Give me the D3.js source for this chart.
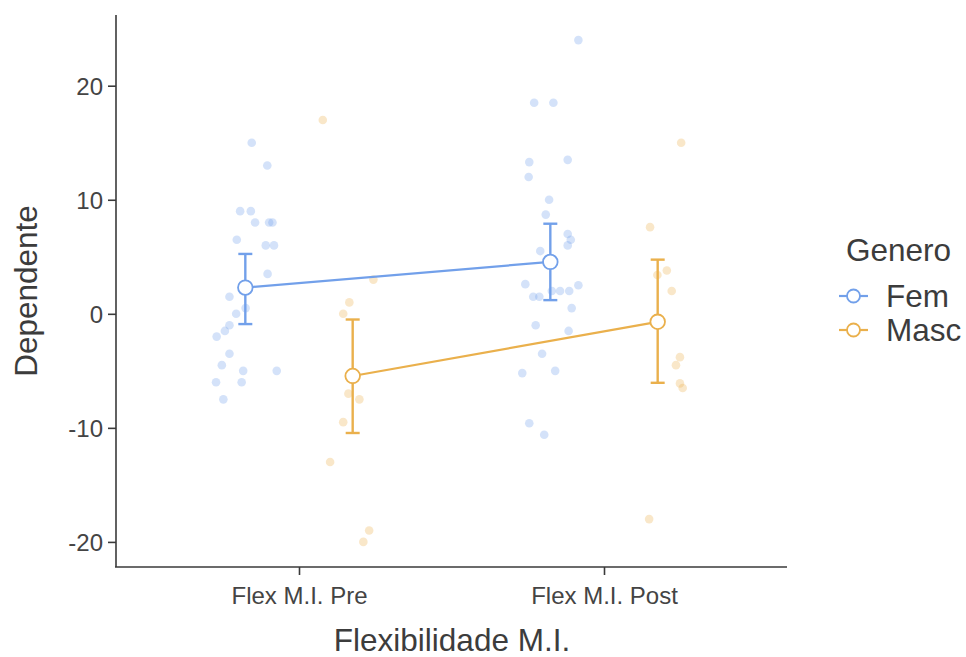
<!DOCTYPE html>
<html>
<head>
<meta charset="utf-8">
<script src="https://cdn.jsdelivr.net/npm/d3@7/dist/d3.min.js"></script>
<style>
  html, body { margin: 0; padding: 0; background: #ffffff; }
  svg { display: block; font-family: "Liberation Sans", Arial, sans-serif; }
</style>
</head>
<body>
<svg id="chart" width="966" height="657"></svg>
<script>
// ---------------- DATA ----------------
const categories = ["Flex M.I. Pre", "Flex M.I. Post"];
const groups = ["Fem", "Masc"];
const yTicks = [-20, -10, 0, 10, 20];

// group means and 95% CI per category
const femMean = [2.3, 4.55];
const femLow  = [-0.9, 1.2];
const femHigh = [5.25, 7.9];
const mascMean = [-5.45, -0.7];
const mascLow  = [-10.45, -6.05];
const mascHigh = [-0.5, 4.75];

// raw observations (values) and their horizontal jitter (category units)
const femPreValues  = [15, 13, 9, 9, 8, 8, 8, 6.5, 6, 6, 3.5, 1.5, 0.5, 0, -1, -1.5, -2, -3.5, -4.5, -5, -5, -6, -6, -7.5];
const femPreJitter  = [.021, .072, -.017, .018, .032, .078, .089, -.028, .067, .094, .073, -.052, .001, -.030, -.052, -.067, -.094, -.052, -.077, -.007, .103, -.096, -.012, -.072];
const mascPreValues = [17, 3, 1, 0, -7, -7.5, -9.5, -13, -19, -20];
const mascPreJitter = [-.098, .068, -.011, -.031, -.014, .022, -.031, -.074, .054, .035];
const femPostValues = [24, 18.5, 18.5, 13.3, 13.5, 12, 10, 8.7, 7, 6.5, 6, 5.5, 2.6, 2.5, 1.5, 1.5, 2, 2, 2, 0.5, -1, -1.5, -3.5, -5.2, -5, -9.6, -10.6];
const femPostJitter = [.092, -.053, .010, -.069, .057, -.071, -.004, -.015, .057, .067, .057, -.033, -.082, .092, -.056, -.036, .005, .032, .062, .070, -.048, .060, -.027, -.092, .016, -.069, -.020];
const mascPostValues = [15, 7.6, 3.8, 3.4, 2, -3.8, -4.5, -6.1, -6.5, -18];
const mascPostJitter = [.077, -.025, .030, -.001, .046, .073, .060, .073, .082, -.028];

// ---------------- BUILD ----------------
const colors = { Fem: "#72a0ea", Masc: "#eab04c" };
const dodge = { Fem: -0.176, Masc: 0.176 };

const summary = [
  { g: "Fem", mean: femMean, low: femLow, high: femHigh },
  { g: "Masc", mean: mascMean, low: mascLow, high: mascHigh }
];
const raw = [
  { g: "Fem", c: 0, v: femPreValues, j: femPreJitter },
  { g: "Masc", c: 0, v: mascPreValues, j: mascPreJitter },
  { g: "Fem", c: 1, v: femPostValues, j: femPostJitter },
  { g: "Masc", c: 1, v: mascPostValues, j: mascPostJitter }
];
const points = [];
raw.forEach(r => r.v.forEach((v, i) => points.push({ g: r.g, c: r.c, v: v, j: r.j[i] })));

const svg = d3.select("#chart");
const pLeft = 116, pRight = 787, pTop = 15, pBottom = 567;

// category positions: index 1..n with ggplot-like 0.6 expansion
const x = d3.scaleLinear().domain([0.4, categories.length + 0.6]).range([pLeft, pRight]);
const y = d3.scaleLinear().domain([-22.2, 26.2]).range([pBottom, pTop]);

// raw points
svg.append("g").selectAll("circle").data(points).join("circle")
  .attr("cx", d => x(d.c + 1 + dodge[d.g] + d.j))
  .attr("cy", d => y(d.v))
  .attr("r", 4.3)
  .attr("fill", d => colors[d.g])
  .attr("fill-opacity", 0.3);

// axes
const axisColor = "#3a3a3a";
const tickColor = "#444";
const yAxis = svg.append("g").attr("transform", `translate(${pLeft},0)`)
  .call(d3.axisLeft(y).tickValues(yTicks).tickFormat(d => String(d)).tickSize(8).tickPadding(5));
yAxis.select(".domain").attr("d", `M0,${pTop}V${pBottom}`);
const xAxis = svg.append("g").attr("transform", `translate(0,${pBottom})`)
  .call(d3.axisBottom(x).tickValues(categories.map((c, i) => i + 1))
    .tickFormat((d, i) => categories[i]).tickSize(8).tickPadding(12));
xAxis.select(".domain").attr("d", `M${pLeft - 1},0H${pRight}`);
[yAxis, xAxis].forEach(a => {
  a.select(".domain").attr("stroke", axisColor).attr("stroke-width", 1.6);
  a.selectAll(".tick line").attr("stroke", axisColor).attr("stroke-width", 1.6);
  a.selectAll(".tick text").attr("fill", tickColor).attr("font-size", 24)
    .attr("font-family", "Liberation Sans, Arial, sans-serif");
});
yAxis.selectAll(".tick text").attr("dy", "0.35em");

// lines connecting means
summary.forEach(s => {
  const line = d3.line().x((d, i) => x(i + 1 + dodge[s.g])).y(d => y(d));
  svg.append("path").datum(s.mean).attr("d", line)
    .attr("fill", "none").attr("stroke", colors[s.g]).attr("stroke-width", 2.2);
});

// error bars
const capHalf = 7;
summary.forEach(s => {
  const g = svg.append("g").attr("stroke", colors[s.g]).attr("stroke-width", 2.4).attr("fill", "none");
  s.mean.forEach((m, i) => {
    const cx = x(i + 1 + dodge[s.g]);
    g.append("line").attr("x1", cx).attr("x2", cx).attr("y1", y(s.low[i])).attr("y2", y(s.high[i]));
    g.append("line").attr("x1", cx - capHalf).attr("x2", cx + capHalf).attr("y1", y(s.low[i])).attr("y2", y(s.low[i]));
    g.append("line").attr("x1", cx - capHalf).attr("x2", cx + capHalf).attr("y1", y(s.high[i])).attr("y2", y(s.high[i]));
  });
});

// mean markers
summary.forEach(s => {
  svg.append("g").selectAll("circle").data(s.mean).join("circle")
    .attr("cx", (d, i) => x(i + 1 + dodge[s.g]))
    .attr("cy", d => y(d))
    .attr("r", 7.3)
    .attr("fill", "#fff")
    .attr("stroke", colors[s.g])
    .attr("stroke-width", 1.8);
});

// axis titles
const titleColor = "#3c3c3c";
svg.append("text").attr("x", 452).attr("y", 651)
  .attr("text-anchor", "middle").attr("font-size", 31.5).attr("fill", titleColor)
  .text("Flexibilidade M.I.");
svg.append("text").attr("transform", `translate(37,291) rotate(-90)`)
  .attr("text-anchor", "middle").attr("font-size", 31.5).attr("fill", titleColor)
  .text("Dependente");

// legend
const legend = svg.append("g");
legend.append("text").attr("x", 846).attr("y", 261).attr("font-size", 31.5).attr("fill", titleColor).text("Genero");
groups.forEach((g, i) => {
  const ly = 296 + i * 34;
  legend.append("line").attr("x1", 839).attr("x2", 868).attr("y1", ly).attr("y2", ly)
    .attr("stroke", colors[g]).attr("stroke-width", 2.2);
  legend.append("circle").attr("cx", 853.5).attr("cy", ly).attr("r", 6.5)
    .attr("fill", "#fff").attr("stroke", colors[g]).attr("stroke-width", 1.8);
  legend.append("text").attr("x", 886).attr("y", ly + 11).attr("font-size", 31.5).attr("fill", titleColor).text(g);
});
</script>
</body>
</html>
